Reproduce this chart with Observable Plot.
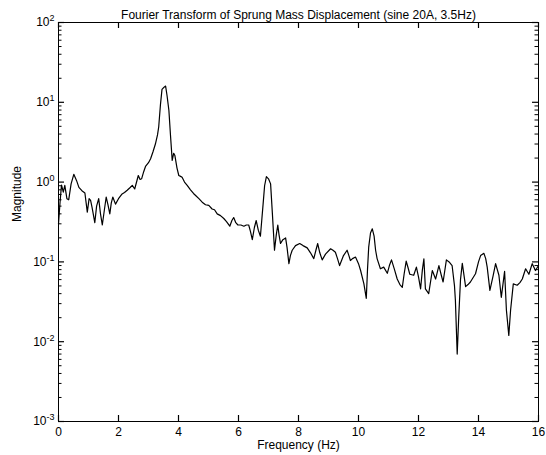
<!DOCTYPE html>
<html><head><meta charset="utf-8">
<script src="https://cdn.jsdelivr.net/npm/d3@7"></script>
<script src="https://cdn.jsdelivr.net/npm/@observablehq/plot@0.6"></script>
<style>
html,body{margin:0;padding:0;background:#fff;}
</style></head><body><div id="chart"></div>
<script>
const title = "Fourier Transform of Sprung Mass Displacement (sine 20A, 3.5Hz)";
const xLabel = "Frequency (Hz)";
const yLabel = "Magnitude";
const xTicks = [0, 2, 4, 6, 8, 10, 12, 14, 16];
const yTicks = [1e-3, 1e-2, 1e-1, 1e0, 1e1, 1e2];
const yTickLabels = ["10^-3", "10^-2", "10^-1", "10^0", "10^1", "10^2"];

const freq = [0.00,0.05,0.10,0.16,0.21,0.28,0.34,0.42,0.51,0.60,0.68,0.78,0.88,0.96,1.02,1.07,1.12,1.21,1.27,1.34,1.40,1.46,1.53,1.59,1.65,1.71,1.76,1.81,1.90,2.00,2.12,2.20,2.29,2.38,2.46,2.54,2.66,2.72,2.77,2.84,2.90,3.00,3.07,3.15,3.23,3.30,3.34,3.40,3.45,3.52,3.57,3.62,3.68,3.73,3.79,3.84,3.88,3.95,4.01,4.07,4.12,4.20,4.29,4.40,4.50,4.57,4.68,4.79,4.90,5.01,5.12,5.20,5.29,5.40,5.51,5.60,5.71,5.78,5.84,5.91,5.98,6.08,6.18,6.26,6.34,6.40,6.46,6.53,6.59,6.66,6.73,6.78,6.82,6.87,6.93,7.00,7.07,7.13,7.20,7.26,7.31,7.35,7.40,7.48,7.57,7.62,7.68,7.73,7.79,7.90,8.04,8.15,8.29,8.40,8.51,8.58,8.64,8.71,8.79,8.90,9.07,9.15,9.23,9.30,9.37,9.50,9.62,9.68,9.73,9.80,9.90,10.00,10.07,10.18,10.26,10.30,10.34,10.40,10.46,10.52,10.57,10.62,10.73,10.84,10.96,11.03,11.10,11.20,11.29,11.38,11.46,11.52,11.59,11.65,11.71,11.84,11.93,12.00,12.07,12.13,12.18,12.23,12.34,12.46,12.57,12.68,12.76,12.82,12.93,13.02,13.12,13.20,13.23,13.29,13.34,13.40,13.46,13.57,13.65,13.73,13.90,14.00,14.07,14.18,14.24,14.29,14.38,14.49,14.57,14.68,14.76,14.87,14.93,15.01,15.07,15.16,15.29,15.38,15.46,15.57,15.68,15.79,15.90,16.00];
const mag = [0.30,0.55,0.92,0.75,0.91,0.62,0.60,0.95,1.25,1.05,0.86,0.78,0.73,0.42,0.62,0.59,0.48,0.31,0.50,0.62,0.40,0.29,0.45,0.65,0.52,0.40,0.55,0.65,0.53,0.62,0.71,0.74,0.79,0.85,0.91,0.82,1.21,1.08,1.10,1.35,1.57,1.75,1.96,2.4,3.0,3.9,4.9,9.5,14.5,15.5,16.0,12.0,7.9,4.0,1.87,2.3,2.15,1.5,1.21,1.18,1.15,1.0,0.91,0.80,0.72,0.68,0.62,0.56,0.52,0.51,0.46,0.45,0.40,0.38,0.35,0.32,0.28,0.33,0.36,0.31,0.29,0.29,0.28,0.29,0.29,0.24,0.19,0.27,0.33,0.25,0.21,0.35,0.53,0.90,1.17,1.10,0.95,0.40,0.14,0.22,0.29,0.22,0.17,0.19,0.20,0.15,0.095,0.12,0.14,0.16,0.17,0.16,0.15,0.13,0.11,0.14,0.17,0.13,0.106,0.125,0.146,0.14,0.132,0.11,0.090,0.12,0.14,0.12,0.104,0.11,0.115,0.095,0.078,0.053,0.035,0.08,0.153,0.23,0.26,0.21,0.14,0.11,0.082,0.086,0.072,0.09,0.106,0.08,0.061,0.052,0.048,0.07,0.102,0.085,0.070,0.068,0.086,0.065,0.046,0.08,0.109,0.046,0.040,0.078,0.061,0.090,0.068,0.056,0.106,0.10,0.090,0.05,0.033,0.007,0.020,0.06,0.096,0.049,0.052,0.056,0.071,0.10,0.12,0.128,0.11,0.086,0.044,0.068,0.095,0.068,0.036,0.076,0.025,0.012,0.025,0.053,0.051,0.055,0.061,0.082,0.070,0.095,0.078,0.09];

const data = freq.map((f, i) => ({f, m: mag[i]}));
const yMinor = [];
for (const d of yTicks.slice(0, -1)) for (let k = 2; k <= 9; k++) yMinor.push(d * k);
const labelOf = new Map(yTicks.map((v, i) => [v, yTickLabels[i]]));
const font = "'Liberation Sans', Arial, Helvetica, sans-serif";

const W = 546, H = 455, mT = 22, mB = 34, mL = 58, mR = 8;
const frameW = W - mL - mR, frameH = H - mT - mB;
const majorLen = 6, minorLen = 3.5;

const chart = Plot.plot({
  width: W, height: H,
  marginTop: mT, marginBottom: mB, marginLeft: mL, marginRight: mR,
  style: {fontFamily: font, fontSize: "12px", color: "#000", background: "#fff", overflow: "visible"},
  x: {domain: [0, 16]},
  y: {type: "log", domain: [1e-3, 1e2]},
  marks: [
    Plot.ruleX(xTicks, {x: d => d, insetTop: frameH - majorLen, stroke: "#000", strokeWidth: 1.2}),
    Plot.ruleX(xTicks, {x: d => d, insetBottom: frameH - majorLen, stroke: "#000", strokeWidth: 1.2}),
    Plot.ruleY(yTicks, {y: d => d, insetRight: frameW - majorLen, stroke: "#000", strokeWidth: 1.2}),
    Plot.ruleY(yTicks, {y: d => d, insetLeft: frameW - majorLen, stroke: "#000", strokeWidth: 1.2}),
    Plot.ruleY(yMinor, {y: d => d, insetRight: frameW - minorLen, stroke: "#000"}),
    Plot.ruleY(yMinor, {y: d => d, insetLeft: frameW - minorLen, stroke: "#000"}),
    Plot.axisX(xTicks, {anchor: "bottom", tickSize: 0, tickPadding: 6, tickFormat: d => String(d), label: null, fontSize: 12}),
    Plot.axisY(yTicks, {anchor: "left", tickSize: 0, tickPadding: 4, tickFormat: d => labelOf.get(d), label: null, fontSize: 12}),
    Plot.frame({stroke: "#000"}),
    Plot.line(data, {x: "f", y: "m", stroke: "#000", strokeWidth: 1.2}),
    Plot.text([title], {frameAnchor: "top", dy: -12, text: d => d, fontSize: 12}),
    Plot.text([xLabel], {frameAnchor: "bottom", dy: 27, text: d => d, fontSize: 12}),
    Plot.text([yLabel], {frameAnchor: "left", dx: -41, rotate: -90, text: d => d, fontSize: 12})
  ]
});

chart.querySelectorAll("text").forEach(t => {
  const s = t.textContent;
  const m = /^10\^(.+)$/.exec(s);
  if (m) {
    t.textContent = "";
    const a = document.createElementNS("http://www.w3.org/2000/svg", "tspan");
    a.textContent = "10";
    const b = document.createElementNS("http://www.w3.org/2000/svg", "tspan");
    b.textContent = m[1];
    b.setAttribute("dy", "-0.55em");
    b.setAttribute("font-size", "9");
    t.appendChild(a); t.appendChild(b);
  }
});
document.getElementById("chart").appendChild(chart);
</script></body></html>
